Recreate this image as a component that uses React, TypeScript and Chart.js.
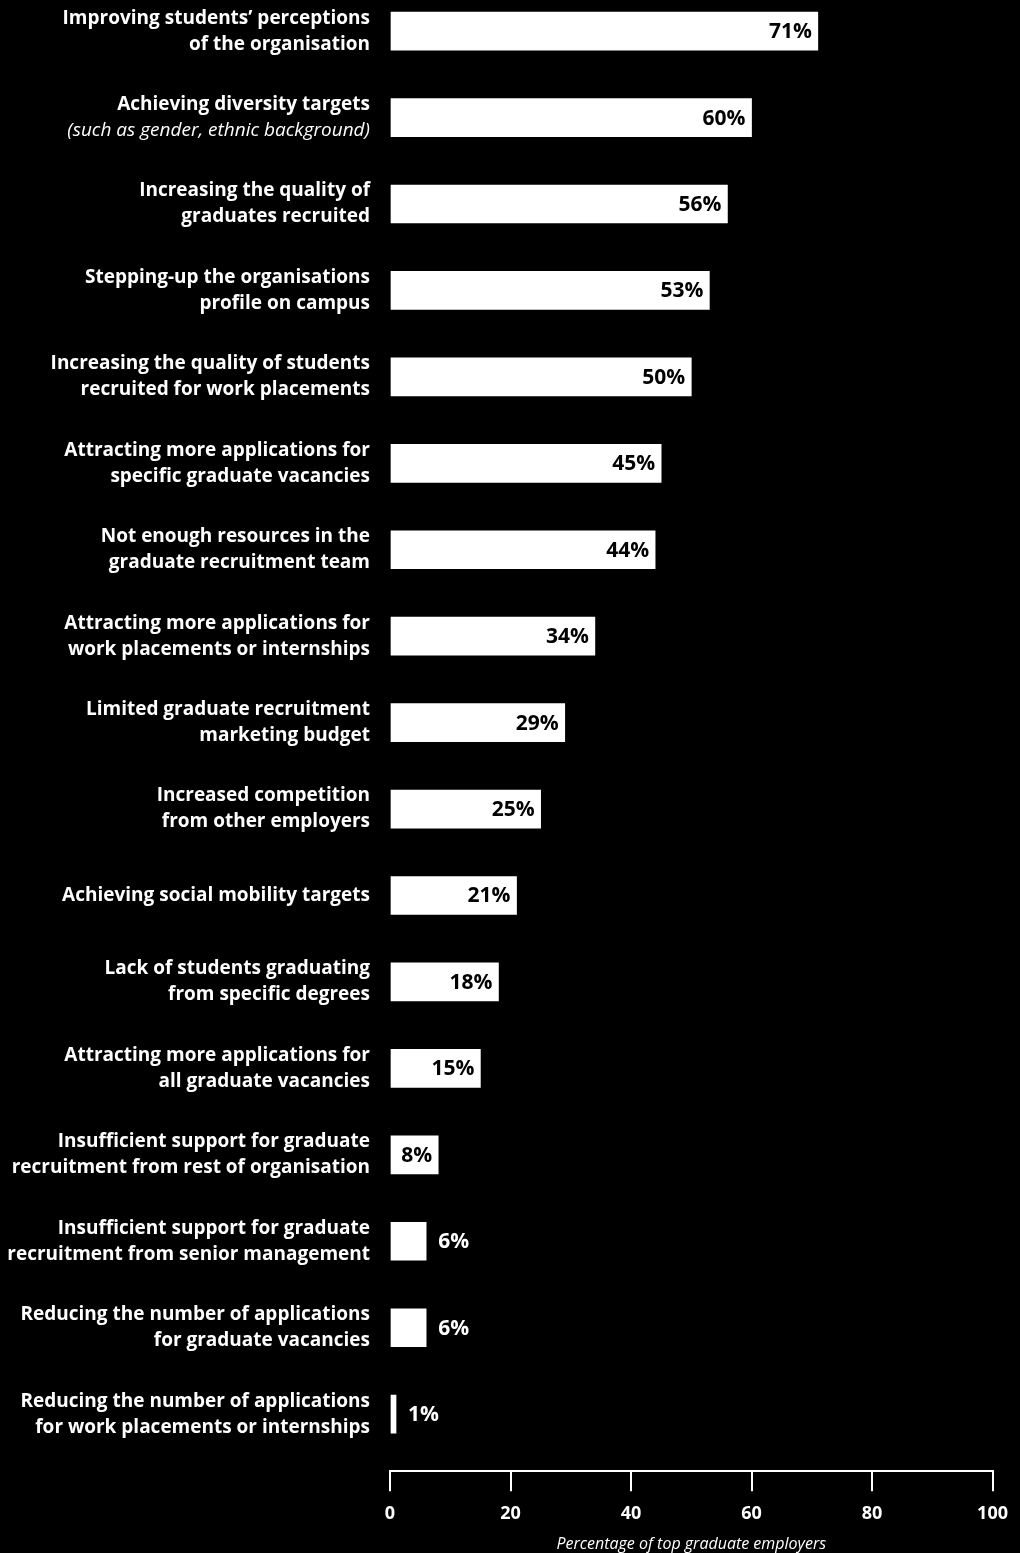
import React, { useEffect, useRef } from "react";
import { Chart, registerables } from "chart.js";

Chart.register(...registerables);

const categoryLines: string[][] = [
  ["Improving students\u2019 perceptions", "of the organisation"],
  ["Achieving diversity targets", "(such as gender, ethnic background)"],
  ["Increasing the quality of", "graduates recruited"],
  ["Stepping-up the organisations", "profile on campus"],
  ["Increasing the quality of students", "recruited for work placements"],
  ["Attracting more applications for", "specific graduate vacancies"],
  ["Not enough resources in the", "graduate recruitment team"],
  ["Attracting more applications for", "work placements or internships"],
  ["Limited graduate recruitment", "marketing budget"],
  ["Increased competition", "from other employers"],
  ["Achieving social mobility targets"],
  ["Lack of students graduating", "from specific degrees"],
  ["Attracting more applications for", "all graduate vacancies"],
  ["Insufficient support for graduate", "recruitment from rest of organisation"],
  ["Insufficient support for graduate", "recruitment from senior management"],
  ["Reducing the number of applications", "for graduate vacancies"],
  ["Reducing the number of applications", "for work placements or internships"],
];

const values: number[] = [71, 60, 56, 53, 50, 45, 44, 34, 29, 25, 21, 18, 15, 8, 6, 6, 1];

const xTicks: number[] = [0, 20, 40, 60, 80, 100];
const xTitle = "Percentage of top graduate employers";

const FONT = "'Open Sans', 'Noto Sans', sans-serif";

const labelPlugin = {
  id: "customLabels",
  afterDraw(chart: any) {
    const ctx = chart.ctx;
    const yScale = chart.scales.y;
    const xScale = chart.scales.x;
    const meta = chart.getDatasetMeta(0);
    ctx.save();
    ctx.textBaseline = "middle";
    categoryLines.forEach((lines, i) => {
      const yc = yScale.getPixelForValue(i);
      const lh = 26;
      const startY = yc - ((lines.length - 1) * lh) / 2;
      lines.forEach((line, j) => {
        const italic = line.startsWith("(");
        ctx.font = italic ? `italic 400 19px ${FONT}` : `700 19px ${FONT}`;
        ctx.fillStyle = "#ffffff";
        ctx.textAlign = "right";
        ctx.fillText(line, xScale.left - 20, startY + j * lh);
      });
    });
    meta.data.forEach((bar: any, i: number) => {
      const v = values[i];
      ctx.font = `700 21px ${FONT}`;
      if (v >= 8) {
        ctx.fillStyle = "#000000";
        ctx.textAlign = "right";
        ctx.fillText(`${v}%`, bar.x - 6, bar.y + 1);
      } else {
        ctx.fillStyle = "#ffffff";
        ctx.textAlign = "left";
        ctx.fillText(`${v}%`, bar.x + 12, bar.y + 1);
      }
    });
    ctx.restore();
  },
};

export default function App() {
  const ref = useRef<HTMLCanvasElement | null>(null);
  useEffect(() => {
    document.body.style.margin = "0";
    document.body.style.background = "#000";
    if (!ref.current) return;
    const chart = new Chart(ref.current, {
      type: "bar",
      data: {
        datasets: [
          {
            data: values.map((v, i) => ({ x: v, y: i })) as any,
            backgroundColor: "#ffffff",
            borderWidth: 0,
            barThickness: 38,
          },
        ],
      },
      options: {
        indexAxis: "y",
        animation: false,
        responsive: false,
        events: [],
        layout: { padding: { left: 390, right: 24, top: 0, bottom: 0 } },
        plugins: { legend: { display: false }, tooltip: { enabled: false } },
        scales: {
          y: {
            type: "linear",
            reverse: true,
            offset: false,
            min: -0.36,
            max: 16.66,
            display: false,
          },
          x: {
            type: "linear",
            min: xTicks[0],
            max: xTicks[xTicks.length - 1],
            afterBuildTicks: (axis: any) => {
              axis.ticks = xTicks.map((v) => ({ value: v }));
            },
            grid: {
              display: true,
              drawOnChartArea: false,
              drawTicks: true,
              tickLength: 20,
              color: "#ffffff",
              lineWidth: 2,
            },
            border: { display: true, color: "#ffffff", width: 2 },
            ticks: {
              color: "#ffffff",
              padding: 12,
              font: { family: FONT, size: 18, weight: "bold" },
            },
            title: {
              display: true,
              text: xTitle,
              color: "#ffffff",
              padding: { top: -2, bottom: -1 },
              font: { family: FONT, size: 16, style: "italic" },
            },
          },
        },
      },
      plugins: [labelPlugin],
    });
    return () => chart.destroy();
  }, []);
  return (
    <div style={{ width: 1020, height: 1553, background: "#000" }}>
      <canvas ref={ref} width={1020} height={1553} style={{ display: "block" }} />
    </div>
  );
}
